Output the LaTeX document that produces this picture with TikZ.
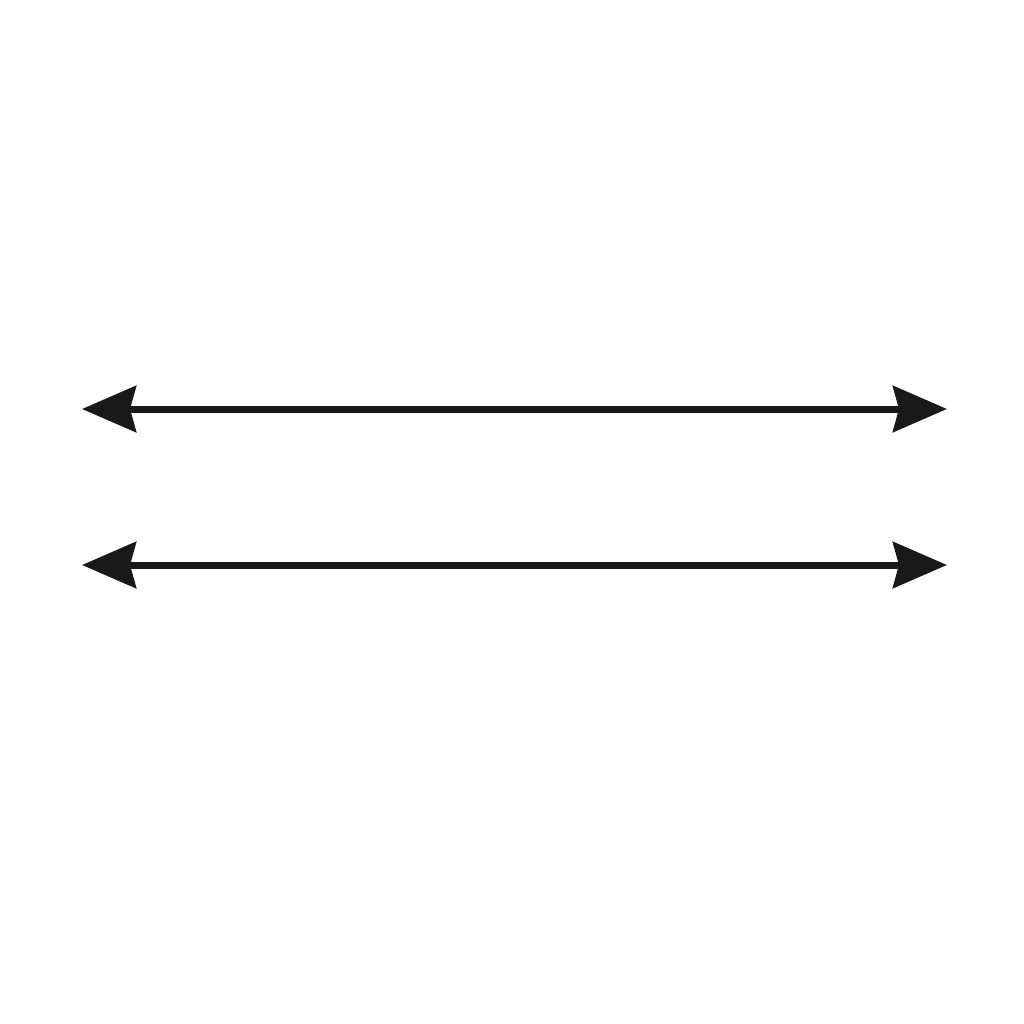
\documentclass[tikz,border=0pt]{standalone}
\usetikzlibrary{arrows.meta}
\begin{document}
\begin{tikzpicture}[x=1pt,y=-1pt,
  dblarrow/.style={line width=7pt,draw=black!90,{Stealth[length=54pt,width=46pt,inset=6pt]}-{Stealth[length=54pt,width=46pt,inset=6pt]}}]
\useasboundingbox (0,0) rectangle (1024,1024);
\coordinate (a1) at (82,409);
\coordinate (b1) at (947,409);
\coordinate (a2) at (82,565);
\coordinate (b2) at (947,565);
\draw[dblarrow] (a1) -- (b1);
\draw[dblarrow] (a2) -- (b2);
\end{tikzpicture}
\end{document}
